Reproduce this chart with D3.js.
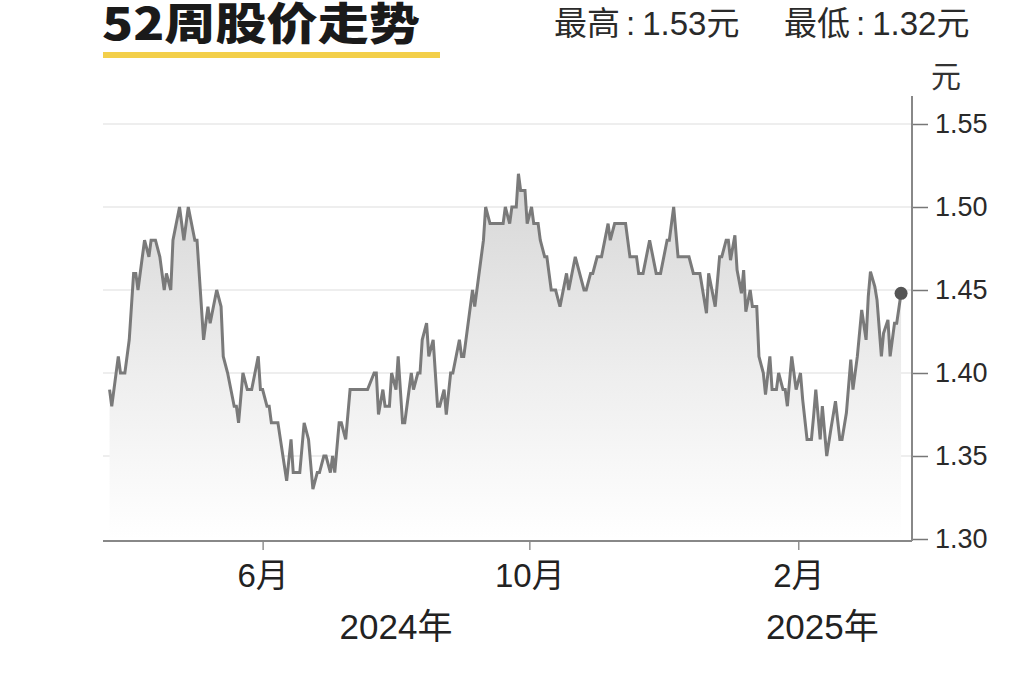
<!DOCTYPE html>
<html><head><meta charset="utf-8">
<script src="https://cdn.jsdelivr.net/npm/d3@7"></script>
<style>
html,body{margin:0;padding:0;background:#fff;}
svg{display:block;}
</style></head>
<body>
<svg id="chart" width="1024" height="682"></svg>
<script>
const title = "52周股价走势";
const highLabel = ["最高", ":", "1.53元"];
const lowLabel = ["最低", ":", "1.32元"];
const unitLabel = "元";
const yTicks = [1.30, 1.35, 1.40, 1.45, 1.50, 1.55];
const xTickDates = ["2024-06-01", "2024-10-01", "2025-02-01"];
const yearLabels = ["2024年", "2025年"];
const yearLabelDates = ["2024-08-01", "2025-02-12"];
const dates = [
"2024-03-23","2024-03-24","2024-03-27","2024-03-28","2024-03-30","2024-04-01","2024-04-03","2024-04-04","2024-04-05","2024-04-07",
"2024-04-08","2024-04-10","2024-04-11","2024-04-13","2024-04-15","2024-04-17","2024-04-18","2024-04-20","2024-04-21","2024-04-24",
"2024-04-26","2024-04-28","2024-05-01","2024-05-02","2024-05-05","2024-05-07","2024-05-08","2024-05-11","2024-05-13","2024-05-14",
"2024-05-16","2024-05-19","2024-05-20","2024-05-21","2024-05-23","2024-05-25","2024-05-27","2024-05-30","2024-05-31","2024-06-01",
"2024-06-03","2024-06-04","2024-06-05","2024-06-08","2024-06-12","2024-06-14","2024-06-15","2024-06-18","2024-06-20","2024-06-22",
"2024-06-24","2024-06-26","2024-06-27","2024-06-29","2024-06-30","2024-07-02","2024-07-03","2024-07-04","2024-07-06","2024-07-07",
"2024-07-09","2024-07-11","2024-07-19","2024-07-22","2024-07-23","2024-07-24","2024-07-26","2024-07-27","2024-07-29","2024-07-30",
"2024-08-01","2024-08-02","2024-08-04","2024-08-05","2024-08-08","2024-08-09","2024-08-11","2024-08-12","2024-08-13","2024-08-15",
"2024-08-16","2024-08-18","2024-08-20","2024-08-21","2024-08-23","2024-08-24","2024-08-26","2024-08-27","2024-08-30","2024-08-31",
"2024-09-01","2024-09-05","2024-09-06","2024-09-07","2024-09-09","2024-09-10","2024-09-11","2024-09-13","2024-09-19","2024-09-20",
"2024-09-22","2024-09-23","2024-09-25","2024-09-26","2024-09-27","2024-09-29","2024-09-30","2024-10-02","2024-10-03","2024-10-05",
"2024-10-06","2024-10-08","2024-10-09","2024-10-11","2024-10-13","2024-10-15","2024-10-18","2024-10-19","2024-10-22","2024-10-26",
"2024-10-27","2024-10-29","2024-10-30","2024-11-01","2024-11-03","2024-11-06","2024-11-07","2024-11-09","2024-11-14","2024-11-16",
"2024-11-19","2024-11-20","2024-11-22","2024-11-25","2024-11-28","2024-11-30","2024-12-03","2024-12-04","2024-12-06","2024-12-08",
"2024-12-13","2024-12-15","2024-12-18","2024-12-21","2024-12-22","2024-12-25","2024-12-27","2024-12-28","2024-12-30","2024-12-31",
"2025-01-01","2025-01-03","2025-01-04","2025-01-06","2025-01-07","2025-01-08","2025-01-10","2025-01-11","2025-01-13","2025-01-14",
"2025-01-16","2025-01-17","2025-01-19","2025-01-20","2025-01-22","2025-01-23","2025-01-25","2025-01-26","2025-01-27","2025-01-29",
"2025-01-31","2025-02-02","2025-02-03","2025-02-05","2025-02-07","2025-02-08","2025-02-09","2025-02-11","2025-02-12","2025-02-14",
"2025-02-16","2025-02-18","2025-02-20","2025-02-21","2025-02-23","2025-02-25","2025-02-26","2025-02-28","2025-03-02","2025-03-04",
"2025-03-05","2025-03-06","2025-03-08","2025-03-09","2025-03-11","2025-03-12","2025-03-14","2025-03-15","2025-03-17","2025-03-18",
"2025-03-20"
];
const prices = [
1.39,1.38,1.41,1.40,1.40,1.42,1.46,1.46,1.45,1.47,
1.48,1.47,1.48,1.48,1.47,1.45,1.46,1.45,1.48,1.50,
1.48,1.50,1.48,1.48,1.42,1.44,1.43,1.45,1.44,1.41,
1.40,1.38,1.38,1.37,1.40,1.39,1.39,1.41,1.39,1.39,
1.38,1.38,1.37,1.37,1.335,1.36,1.34,1.34,1.37,1.36,
1.33,1.34,1.34,1.35,1.35,1.34,1.35,1.34,1.37,1.37,
1.36,1.39,1.39,1.40,1.40,1.375,1.39,1.38,1.38,1.40,
1.39,1.41,1.37,1.37,1.40,1.39,1.40,1.40,1.42,1.43,
1.41,1.42,1.38,1.38,1.39,1.375,1.40,1.40,1.42,1.41,
1.41,1.45,1.44,1.45,1.47,1.48,1.50,1.49,1.49,1.50,
1.49,1.50,1.50,1.52,1.51,1.51,1.49,1.50,1.49,1.49,
1.48,1.47,1.47,1.45,1.45,1.44,1.46,1.45,1.47,1.45,
1.45,1.46,1.46,1.47,1.47,1.49,1.48,1.49,1.49,1.47,
1.47,1.46,1.46,1.48,1.46,1.46,1.48,1.48,1.50,1.47,
1.47,1.46,1.46,1.436,1.46,1.44,1.47,1.47,1.48,1.48,
1.468,1.483,1.462,1.448,1.462,1.437,1.45,1.44,1.44,1.41,
1.40,1.387,1.41,1.39,1.39,1.40,1.39,1.39,1.38,1.41,
1.39,1.40,1.384,1.36,1.36,1.374,1.39,1.36,1.38,1.35,
1.367,1.383,1.36,1.36,1.376,1.408,1.39,1.41,1.438,1.42,
1.446,1.461,1.452,1.444,1.41,1.424,1.432,1.41,1.43,1.43,
1.448
];

const parse = d3.timeParse("%Y-%m-%d");
const data = dates.map((d, i) => ({date: parse(d), value: prices[i]}));

const svg = d3.select("#chart");
const mLeft = 103, mRight = 912, mTop = 124, mBottom = 539;
const x = d3.scaleTime().domain([parse("2024-03-20"), parse("2025-03-25")]).range([mLeft, mRight]);
const y = d3.scaleLinear().domain([1.30, 1.55]).range([mBottom, mTop]);

const CJK = "'Noto Sans CJK SC', 'Noto Sans', sans-serif";
const MIX = "'Liberation Sans', 'Noto Sans CJK SC', sans-serif";

const defs = svg.append("defs");
const grad = defs.append("linearGradient").attr("id", "areaGrad")
  .attr("gradientUnits", "userSpaceOnUse").attr("x1", 0).attr("x2", 0)
  .attr("y1", y(1.52)).attr("y2", y(1.30));
grad.append("stop").attr("offset", "0%").attr("stop-color", "#d6d6d6");
grad.append("stop").attr("offset", "55%").attr("stop-color", "#eeeeee");
grad.append("stop").attr("offset", "100%").attr("stop-color", "#ffffff");

svg.append("g").selectAll("line").data(yTicks.filter(t => t > 1.30)).join("line")
  .attr("x1", mLeft).attr("x2", mRight)
  .attr("y1", d => y(d)).attr("y2", d => y(d))
  .attr("stroke", "#eeeeee").attr("stroke-width", 2);

const area = d3.area().x(d => x(d.date)).y0(y(1.30)).y1(d => y(d.value));
svg.append("path").datum(data).attr("d", area).attr("fill", "url(#areaGrad)");

const line = d3.line().x(d => x(d.date)).y(d => y(d.value));
svg.append("path").datum(data).attr("d", line)
  .attr("fill", "none").attr("stroke", "#7a7a7a").attr("stroke-width", 3)
  .attr("stroke-linejoin", "miter").attr("stroke-miterlimit", 3);

const last = data[data.length - 1];
svg.append("circle").attr("cx", x(last.date)).attr("cy", y(last.value)).attr("r", 6.5).attr("fill", "#555");

const yAxis = d3.axisRight(y).tickValues(yTicks).tickFormat(d3.format(".2f")).tickSize(16).tickPadding(7);
const ya = svg.append("g").attr("transform", `translate(${mRight},0)`).call(yAxis);
ya.select(".domain").remove();
ya.selectAll(".tick line").attr("stroke", "#777").attr("stroke-width", 1.5);
ya.selectAll(".tick text").attr("fill", "#2a2a2a").style("font-family", MIX).style("font-size", "27px");
svg.append("line").attr("x1", mRight).attr("x2", mRight).attr("y1", 96).attr("y2", y(1.30) + 2)
  .attr("stroke", "#888").attr("stroke-width", 2);

const xAxis = d3.axisBottom(x).tickValues(xTickDates.map(parse))
  .tickFormat(d => (d.getMonth() + 1) + "月").tickSize(9).tickPadding(14);
const xa = svg.append("g").attr("transform", `translate(0,${y(1.30) + 2})`).call(xAxis);
xa.select(".domain").remove();
xa.selectAll(".tick line").attr("stroke", "#777").attr("stroke-width", 1.2);
xa.selectAll(".tick text").attr("fill", "#222").style("font-family", MIX).style("font-size", "33px");
svg.append("line").attr("x1", mLeft).attr("x2", mRight).attr("y1", y(1.30) + 2).attr("y2", y(1.30) + 2)
  .attr("stroke", "#888").attr("stroke-width", 2);

svg.append("g").selectAll("text").data(yearLabels).join("text")
  .attr("x", (d, i) => x(parse(yearLabelDates[i])))
  .attr("y", 639).attr("text-anchor", "middle")
  .attr("fill", "#222").style("font-family", MIX).style("font-size", "35px")
  .text(d => d);

svg.append("text").attr("x", 931).attr("y", 87).attr("fill", "#333")
  .style("font-family", CJK).style("font-size", "30px").text(unitLabel);

svg.append("text").attr("x", mLeft - 1).attr("y", 40).attr("fill", "#1a1a1a")
  .attr("textLength", 318).attr("lengthAdjust", "spacingAndGlyphs")
  .style("font-family", CJK).style("font-weight", "900").style("font-size", "44px")
  .text(title);
svg.append("rect").attr("x", mLeft).attr("y", 52).attr("width", 337).attr("height", 6).attr("fill", "#f3cf4a");

function header(parts, x0) {
  const t = svg.append("text").attr("x", x0).attr("y", 35).attr("fill", "#2a2a2a")
    .style("font-family", MIX).style("font-size", "33px");
  t.append("tspan").text(parts[0]);
  t.append("tspan").attr("dx", 6).text(parts[1]);
  t.append("tspan").attr("dx", 7).text(parts[2]);
}
header(highLabel, 554);
header(lowLabel, 784);
</script>
</body></html>
